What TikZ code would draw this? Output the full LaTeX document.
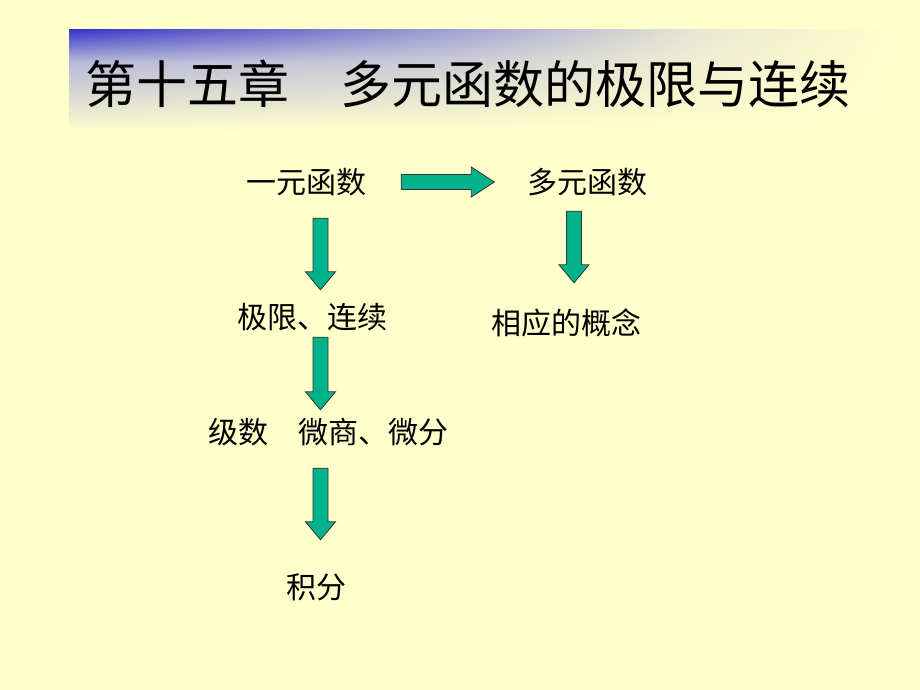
\documentclass[tikz,border=0pt]{standalone}
\usepackage{fontspec}
\newfontfamily\cjk{Noto Sans CJK SC}
\usetikzlibrary{calc,shadings}
\definecolor{slidebg}{RGB}{255,255,204}
\definecolor{arrowfill}{RGB}{0,178,140}
\definecolor{arrowline}{RGB}{51,51,51}
\definecolor{bandA}{RGB}{55,55,200}
\definecolor{bandB}{RGB}{160,160,212}
\definecolor{bandC}{RGB}{232,232,212}
\definecolor{bandD}{RGB}{185,185,218}
\definecolor{bandE}{RGB}{205,205,215}
\definecolor{bandF}{RGB}{240,240,210}
\definecolor{bandG}{RGB}{252,252,206}
\newcommand\downfat[2]{%
    \draw[fatarrow] let \p1=(#1), \p2=(#2) in
        (\x1-7.5pt,\y1) -- (\x1-7.5pt,\y2+18pt) -- (\x1-15pt,\y2+18pt) -- (\x1,\y2)
        -- (\x1+15pt,\y2+18pt) -- (\x1+7.5pt,\y2+18pt) -- (\x1+7.5pt,\y1) -- cycle;}
\newcommand\rightfat[2]{%
    \draw[fatarrow] let \p1=(#1), \p2=(#2) in
        (\x1,\y1-7.5pt) -- (\x2-23pt,\y1-7.5pt) -- (\x2-23pt,\y1-15pt) -- (\x2,\y1)
        -- (\x2-23pt,\y1+15pt) -- (\x2-23pt,\y1+7.5pt) -- (\x1,\y1+7.5pt) -- cycle;}
\begin{document}
\begin{tikzpicture}[x=1pt, y=-1pt,
    word/.style={font=\cjk\fontsize{30}{36}\selectfont, inner sep=0pt, text height=25pt, text depth=2pt},
    heading/.style={font=\cjk\fontsize{51}{60}\selectfont, inner sep=0pt, text height=42pt, text depth=4pt},
    fatarrow/.style={fill=arrowfill, draw=arrowline, line width=0.8pt, line join=miter}]
    \useasboundingbox (0,0) rectangle (920,690);
    \fill[slidebg] (0,0) rectangle (920,690);
    \shade[upper left=bandA, upper right=bandB, lower left=bandD, lower right=bandE] (69,30) rectangle (450,62);
    \shade[upper left=bandB, upper right=bandC, lower left=bandE, lower right=bandF] (450,30) rectangle (700,62);
    \shade[upper left=bandC, upper right=slidebg, lower left=bandF, lower right=slidebg] (700,30) rectangle (900,62);
    \shade[upper left=bandD, upper right=bandE, lower left=bandG, lower right=slidebg] (69,62) rectangle (450,130);
    \shade[upper left=bandE, upper right=bandF, lower left=slidebg, lower right=slidebg] (450,62) rectangle (700,130);
    \shade[upper left=bandF, upper right=slidebg, lower left=slidebg, lower right=slidebg] (700,62) rectangle (900,130);
    \node[heading] (title) at (467.5,85) {第十五章　多元函数的极限与连续};
    \node[word] (one) at (306,182) {一元函数};
    \node[word] (multi) at (587.5,182) {多元函数};
    \node[word] (limit) at (312,317) {极限、连续};
    \node[word] (concept) at (566,323) {相应的概念};
    \node[word] (series) at (328,432) {级数　微商、微分};
    \node[word] (integral) at (316,587) {积分};
    \rightfat{[xshift=35pt]one.east}{[xshift=-33pt]multi.west}
    \downfat{[xshift=14.5pt,yshift=-22.5pt]one.south}{[yshift=13.5pt]limit.north}
    \downfat{[xshift=8.5pt,yshift=-6.5pt]limit.south}{[yshift=8.5pt]series.north}
    \downfat{[xshift=-7.5pt,yshift=-22.5pt]series.south}{[yshift=33.5pt]integral.north}
    \downfat{[xshift=-13.5pt,yshift=-15.5pt]multi.south}{[yshift=26.5pt]concept.north}
\end{tikzpicture}
\end{document}
